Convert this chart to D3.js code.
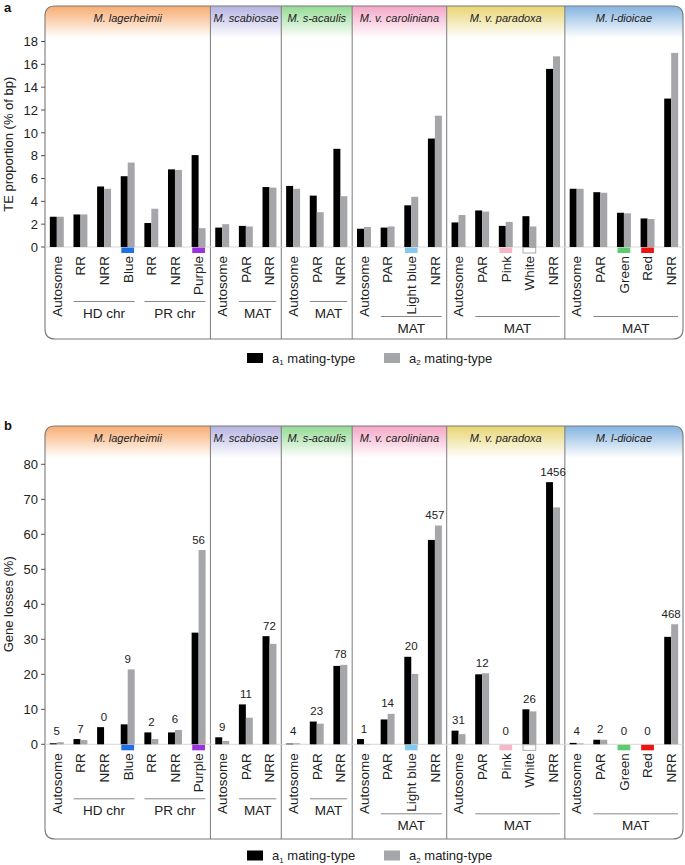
<!DOCTYPE html>
<html><head><meta charset="utf-8">
<script src="https://cdn.jsdelivr.net/npm/d3@7"></script>
<style>
html,body{margin:0;padding:0;background:#fff;}
svg{display:block;font-family:"Liberation Sans",Arial,Helvetica,sans-serif;}
</style></head>
<body>
<svg id="chart" width="685" height="865"></svg>
<script>
// ---------------- DATA ----------------
const species = ["M. lagerheimii","M. scabiosae","M. s-acaulis","M. v. caroliniana","M. v. paradoxa","M. l-dioicae"];
const speciesColors = ["#f8ac72","#b6b2e2","#93da93","#f4a6c6","#e8d572","#84b3e0"];
const categories = ["Autosome","RR","NRR","Blue","RR","NRR","Purple",
  "Autosome","PAR","NRR",
  "Autosome","PAR","NRR",
  "Autosome","PAR","Light blue","NRR",
  "Autosome","PAR","Pink","White","NRR",
  "Autosome","PAR","Green","Red","NRR"];
const categorySpecies = [0,0,0,0,0,0,0, 1,1,1, 2,2,2, 3,3,3,3, 4,4,4,4,4, 5,5,5,5,5];
const groupLabels = ["HD chr","PR chr","MAT","MAT","MAT","MAT","MAT"];
const groupStart = [1,4,8,11,14,18,23];
const groupEnd   = [3,6,9,12,16,21,26];
const swatchSlots  = [3,6,15,19,20,24,25];
const swatchColors = ["#1f6fe6","#9a32e0","#84c9ee","#f6b7c7","#ffffff","#5fcb70","#ee1414"];
const seriesNames = ["a1 mating-type","a2 mating-type"];
const seriesColors = ["#000000","#a5a6a9"];

// Panel a: TE proportion (% of bp)
const teA1 = [2.65,2.85,5.3,6.2,2.1,6.8,8.05, 1.7,1.85,5.25, 5.35,4.5,8.6, 1.6,1.7,3.65,9.5, 2.15,3.2,1.85,2.7,15.6, 5.1,4.8,3.0,2.5,13.0];
const teA2 = [2.65,2.85,5.1,7.4,3.35,6.75,1.65, 2.0,1.8,5.2, 5.1,3.05,4.45, 1.75,1.8,4.4,11.5, 2.8,3.1,2.2,1.8,16.7, 5.1,4.75,2.95,2.45,17.0];
const teTicks = [0,2,4,6,8,10,12,14,16,18];

// Panel b: Gene losses (%)
const glA1 = [0.3,1.5,4.9,5.7,3.4,3.4,31.9, 2.0,11.4,30.9, 0.2,6.5,22.4, 1.5,7.1,25.0,58.4, 3.9,20.0,0,10.0,74.9, 0.4,1.3,0,0,30.7];
const glA2 = [0.6,1.2,0,21.4,1.5,4.1,55.5, 0.95,7.6,28.7, 0.3,5.9,22.7, 0.1,8.7,20.1,62.5, 2.9,20.3,0,9.4,67.7, 0.25,1.3,0,0,34.3];
const glCounts = ["5","7","0","9","2","6","56","9","11","72","4","23","78","1","14","20","457","31","12","0","26","1456","4","2","0","0","468"];
const glTicks = [0,10,20,30,40,50,60,70,80];

// ---------------- DRAW ----------------
const svg = d3.select("#chart");
const L = 45, R = 683;
const x = d3.scaleBand().domain(d3.range(categories.length)).range([L,R]).paddingInner(0.41).paddingOuter(0.205);
const xs = d3.scaleBand().domain([0,1]).range([0,x.bandwidth()]);
const step = x.step();
const defs = svg.append("defs");

species.forEach((s,i)=>{
  const g = defs.append("linearGradient").attr("id","grad"+i).attr("x1",0).attr("y1",0).attr("x2",0).attr("y2",1);
  g.append("stop").attr("offset","0%").attr("stop-color",speciesColors[i]);
  g.append("stop").attr("offset","100%").attr("stop-color","#ffffff");
});

function roundedPath(x0,y0,x1,y1,r){
  return `M${x0},${y0+r} Q${x0},${y0} ${x0+r},${y0} L${x1-r},${y0} Q${x1},${y0} ${x1},${y0+r} L${x1},${y1-r} Q${x1},${y1} ${x1-r},${y1} L${x0+r},${y1} Q${x0},${y1} ${x0},${y1-r} Z`;
}

function panel(opt){
  const {id, top, bottom, y0, yTop, domainMax, ticks, a1, a2, counts, title, letter, letterY, legendY} = opt;
  const y = d3.scaleLinear().domain([0,domainMax]).range([y0,yTop]);
  const gP = svg.append("g");
  defs.append("clipPath").attr("id","clip"+id).append("path").attr("d",roundedPath(L,top,R,bottom,10));
  const hdr = gP.append("g").attr("clip-path",`url(#clip${id})`);
  species.forEach((s,i)=>{
    const idx = categorySpecies.map((c,k)=>c===i?k:-1).filter(k=>k>=0);
    const x0 = L + idx[0]*step, x1 = L + (idx[idx.length-1]+1)*step;
    hdr.append("rect").attr("x",x0).attr("y",top).attr("width",x1-x0).attr("height",32).attr("fill",`url(#grad${i})`);
    gP.append("text").attr("x",(x0+x1)/2).attr("y",top+16).attr("text-anchor","middle")
      .attr("font-size",11).attr("font-style","italic").attr("fill","#222").text(s);
    if(i>0) gP.append("line").attr("x1",x0).attr("x2",x0).attr("y1",top).attr("y2",bottom).attr("stroke","#7a7a7a").attr("stroke-width",1);
  });
  gP.append("path").attr("d",roundedPath(L,top,R,bottom,10)).attr("fill","none").attr("stroke","#7a7a7a").attr("stroke-width",1.1);

  gP.append("line").attr("x1",L).attr("x2",R).attr("y1",y0).attr("y2",y0).attr("stroke","#d8d8d8").attr("stroke-width",1);

  ticks.forEach(t=>{
    gP.append("line").attr("x1",L-4).attr("x2",L).attr("y1",y(t)).attr("y2",y(t)).attr("stroke","#555");
    gP.append("text").attr("x",L-7).attr("y",y(t)).attr("dy","0.36em").attr("text-anchor","end")
      .attr("font-size",13).attr("fill","#222").text(t);
  });
  gP.append("text").attr("transform",`translate(13,${(y0+yTop)/2}) rotate(-90)`).attr("text-anchor","middle")
    .attr("font-size",13).attr("fill","#222").text(title);
  gP.append("text").attr("x",4).attr("y",letterY).attr("font-size",13).attr("font-weight","bold").attr("fill","#111").text(letter);

  const bars = gP.append("g");
  categories.forEach((c,i)=>{
    [a1[i],a2[i]].forEach((v,s)=>{
      if(v<=0) return;
      bars.append("rect").attr("x",x(i)+xs(s)).attr("y",y(v)).attr("width",xs.bandwidth()).attr("height",y0-y(v)).attr("fill",seriesColors[s]);
    });
  });
  swatchSlots.forEach((k,j)=>{
    gP.append("rect").attr("x",x(k)+0.6).attr("y",y0+0.5).attr("width",x.bandwidth()-1.2).attr("height",5.5)
      .attr("fill",swatchColors[j]).attr("stroke",swatchColors[j]==="#ffffff"?"#999":"none").attr("stroke-width",0.8);
  });
  if(counts){
    counts.forEach((c,i)=>{
      const m = Math.max(a1[i],a2[i]);
      const by = Math.min(y(m)-6.5, y0-9.5);
      gP.append("text").attr("x",x(i)+x.bandwidth()/2).attr("y",by).attr("text-anchor","middle")
        .attr("font-size",11.5).attr("fill","#222").text(c);
    });
  }
  categories.forEach((c,i)=>{
    gP.append("text").attr("transform",`translate(${x(i)+x.bandwidth()/2+4.8},${y0+9}) rotate(-90)`)
      .attr("text-anchor","end").attr("font-size",13.5).attr("fill","#222").text(c);
  });
  groupLabels.forEach((gl,j)=>{
    const off = categorySpecies[groupStart[j]]<3 ? 54.5 : 69.5;
    const x0 = L + groupStart[j]*step + 5, x1 = L + (groupEnd[j]+1)*step - 5;
    gP.append("line").attr("x1",x0).attr("x2",x1).attr("y1",y0+off).attr("y2",y0+off).attr("stroke","#888").attr("stroke-width",1);
    gP.append("text").attr("x",(x0+x1)/2).attr("y",y0+off+16).attr("text-anchor","middle")
      .attr("font-size",13.5).attr("fill","#222").text(gl);
  });
  const lg = gP.append("g");
  const lx = [247,384];
  seriesNames.forEach((n,s)=>{
    lg.append("rect").attr("x",lx[s]).attr("y",legendY).attr("width",16).attr("height",10).attr("fill",seriesColors[s]);
    const t = lg.append("text").attr("x",lx[s]+25).attr("y",legendY+9.5).attr("font-size",13).attr("fill","#222");
    t.append("tspan").text("a");
    t.append("tspan").attr("font-size",8).attr("dy",2.5).text(n.slice(1,2));
    t.append("tspan").attr("dy",-2.5).text(n.slice(2));
  });
}

panel({id:"a", top:6, bottom:339, y0:247, yTop:41.5, domainMax:18, ticks:teTicks, a1:teA1, a2:teA2, counts:null,
  title:"TE proportion (% of bp)", letter:"a", letterY:12, legendY:353});
panel({id:"b", top:426, bottom:839, y0:744.3, yTop:464.3, domainMax:80, ticks:glTicks, a1:glA1, a2:glA2, counts:glCounts,
  title:"Gene losses (%)", letter:"b", letterY:430, legendY:850.5});
</script>
</body></html>
